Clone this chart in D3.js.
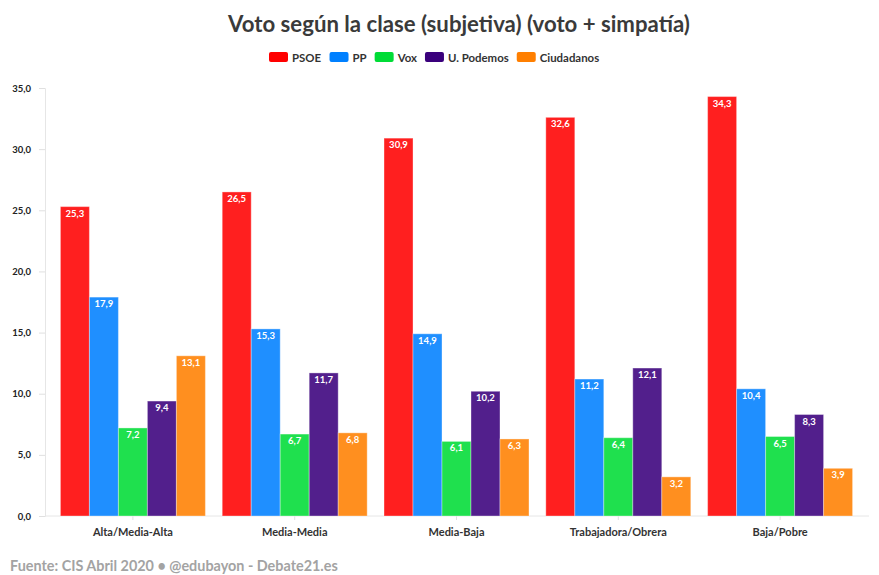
<!DOCTYPE html>
<html><head><meta charset="utf-8">
<script src="https://cdn.jsdelivr.net/npm/d3@7"></script>
<style>
body{margin:0;background:#fff;}
svg{display:block;font-family:Lato,"Open Sans",sans-serif;}
</style></head>
<body>
<svg id="chart" width="879" height="575"></svg>
<script>
const categories = ["Alta/Media-Alta","Media-Media","Media-Baja","Trabajadora/Obrera","Baja/Pobre"];
const seriesNames = ["PSOE","PP","Vox","U. Podemos","Ciudadanos"];
const seriesColors = ["#ff0000","#0080ff","#00dc36","#3a007c","#ff7f00"];
const psoe = [25.3, 26.5, 30.9, 32.6, 34.3];
const pp = [17.9, 15.3, 14.9, 11.2, 10.4];
const vox = [7.2, 6.7, 6.1, 6.4, 6.5];
const podemos = [9.4, 11.7, 10.2, 12.1, 8.3];
const cs = [13.1, 6.8, 6.3, 3.2, 3.9];
const yTicks = [0,5,10,15,20,25,30,35];
const seriesValues = [psoe, pp, vox, podemos, cs];

const svg = d3.select("#chart");
const fmt = v => d3.format(".1f")(v).replace(".", ",");

const x0 = d3.scaleBand().domain(categories).range([52, 861]).paddingInner(0.104).paddingOuter(0.052);
const x1 = d3.scaleBand().domain(seriesNames).range([0, x0.bandwidth()]);
const y = d3.scaleLinear().domain([0,35]).range([516, 88]);

// title
const title = svg.append("text").attr("x", 459).attr("y", 32).attr("text-anchor","middle")
  .attr("font-size", 24).attr("font-weight", 700).attr("fill", "#3a3a3a")
  .text("Voto según la clase (subjetiva) (voto + simpatía)");
const tw = title.node().getComputedTextLength();
title.attr("font-size", 24 * 462 / tw);

// legend
const legend = svg.append("g");
const legItems = legend.selectAll("g").data(seriesNames).join("g");
legItems.append("rect").attr("width", 19).attr("height", 10).attr("rx", 2).attr("y", -5)
  .attr("fill", (d,i) => seriesColors[i]);
const legTexts = legItems.append("text").attr("x", 23).attr("y", 4.5).attr("font-size", 12).attr("font-weight", 700)
  .attr("fill", "#333").text(d => d);
let sumW = 0;
legTexts.each(function(){ sumW += this.getComputedTextLength(); });
legTexts.attr("font-size", 12 * 183 / sumW);
let lx = 0;
legItems.each(function(){ const w = this.getBBox().width; d3.select(this).attr("transform", `translate(${lx},0)`); lx += w + 8; });
legend.attr("transform", `translate(269,57)`);

// y axis
const yAxis = d3.axisLeft(y).tickValues(yTicks).tickFormat(fmt).tickSize(6).tickPadding(8);
const ya = svg.append("g").attr("transform", "translate(45,0)").call(yAxis);
ya.select(".domain").attr("stroke", "#e6e6e6");
ya.selectAll(".tick line").attr("stroke", "#e0e0e0");
ya.selectAll(".tick text").attr("font-size", 9.5).attr("font-weight", 700).attr("fill", "#222").attr("font-family","Lato,sans-serif");

// x axis
const xAxis = d3.axisBottom(x0).tickSize(4).tickPadding(8);
const xa = svg.append("g").attr("transform", "translate(0,516)").call(xAxis);
xa.select(".domain").remove();
xa.append("line").attr("x1", 45).attr("x2", 869).attr("stroke", "#e6e6e6");
xa.selectAll(".tick line").attr("stroke", "#e0e0e0");
xa.selectAll(".tick text").attr("font-size", 11).attr("font-weight", 700).attr("fill", "#333").attr("font-family","Lato,sans-serif");

// bars
const groups = svg.append("g").selectAll("g").data(categories).join("g")
  .attr("transform", d => `translate(${x0(d)},0)`);
groups.each(function(cat, ci){
  const g = d3.select(this);
  seriesNames.forEach((s, si) => {
    const v = seriesValues[si][ci];
    g.append("rect").attr("x", x1(s)).attr("width", x1.bandwidth())
      .attr("y", y(v)).attr("height", y(0) - y(v))
      .attr("fill", seriesColors[si]).attr("fill-opacity", 0.88)
      .attr("stroke", "#fff").attr("stroke-opacity", 0.35).attr("stroke-width", 1);
    g.append("text").attr("x", x1(s) + x1.bandwidth()/2).attr("y", y(v) + 10)
      .attr("text-anchor", "middle").attr("font-size", 9.5).attr("font-weight", 700)
      .attr("fill", "#fff").text(fmt(v));
  });
});

// footer
svg.append("text").attr("x", 10).attr("y", 571).attr("font-size", 14.4).attr("font-weight", 700)
  .attr("fill", "#a3a3a3").text("Fuente: CIS Abril 2020 • @edubayon - Debate21.es");
</script>
</body></html>
